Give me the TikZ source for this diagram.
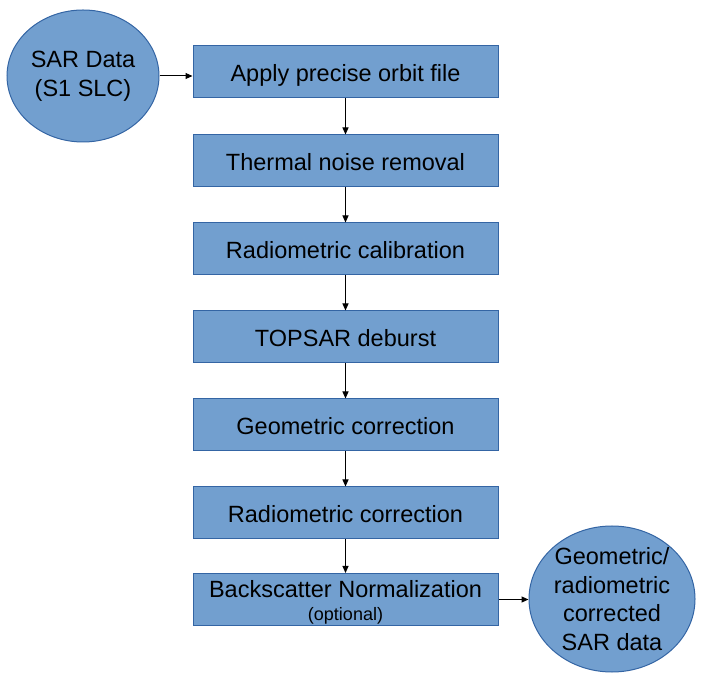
\documentclass[tikz,border=0pt]{standalone}
\usepackage{fontspec}
\setmainfont{Liberation Sans}
\usetikzlibrary{shapes.geometric,arrows.meta}
\definecolor{fillblue}{HTML}{729FCF}
\definecolor{edgeblue}{HTML}{3465A4}
\tikzset{
  stepbox/.style={draw=edgeblue, fill=fillblue, line width=1pt, minimum width=305pt, minimum height=52pt, inner sep=0pt, text height=20pt, text depth=0pt, font=\fontsize{23.5}{28}\selectfont},
  blob/.style={ellipse, draw=edgeblue, fill=fillblue, line width=1pt, inner sep=0pt, align=center, font=\fontsize{23.5}{28.5}\selectfont},
  arr/.style={-{Triangle[length=7pt,width=6pt]}, line width=1pt, black}
}
\begin{document}
\begin{tikzpicture}[x=1pt,y=1pt]
\useasboundingbox (0,0) rectangle (707,683);
\node[blob, minimum width=152pt, minimum height=132pt] (e1) at (83,607) {SAR Data\\(S1 SLC)};
\node[stepbox] (b1) at (345.5,611) {Apply precise orbit file};
\node[stepbox] (b2) at (345.5,522) {Thermal noise removal};
\node[stepbox] (b3) at (345.5,434) {Radiometric calibration};
\node[stepbox] (b4) at (345.5,346) {TOPSAR deburst};
\node[stepbox] (b5) at (345.5,258) {Geometric correction};
\node[stepbox] (b6) at (345.5,170) {Radiometric correction};
\node[stepbox] (b7) at (345.5,83.5) {};
\node[font=\fontsize{23.5}{28}\selectfont, anchor=base, inner sep=0pt] (b7t) at (345.5,85) {Backscatter Normalization};
\node[font=\fontsize{18}{20}\selectfont, anchor=base, inner sep=0pt] (b7o) at (345.5,63) {(optional)};
\node[blob, minimum width=166pt, minimum height=146pt] (e2) at (612,84) {Geometric/\\radiometric\\corrected\\SAR data};
\draw[arr] (e1.east) -- (e1.east -| b1.west);
\draw[arr] (b1) -- (b2);
\draw[arr] (b2) -- (b3);
\draw[arr] (b3) -- (b4);
\draw[arr] (b4) -- (b5);
\draw[arr] (b5) -- (b6);
\draw[arr] (b6) -- (b7);
\draw[arr] (b7.east) -- (b7.east -| e2.west);
\end{tikzpicture}
\end{document}
